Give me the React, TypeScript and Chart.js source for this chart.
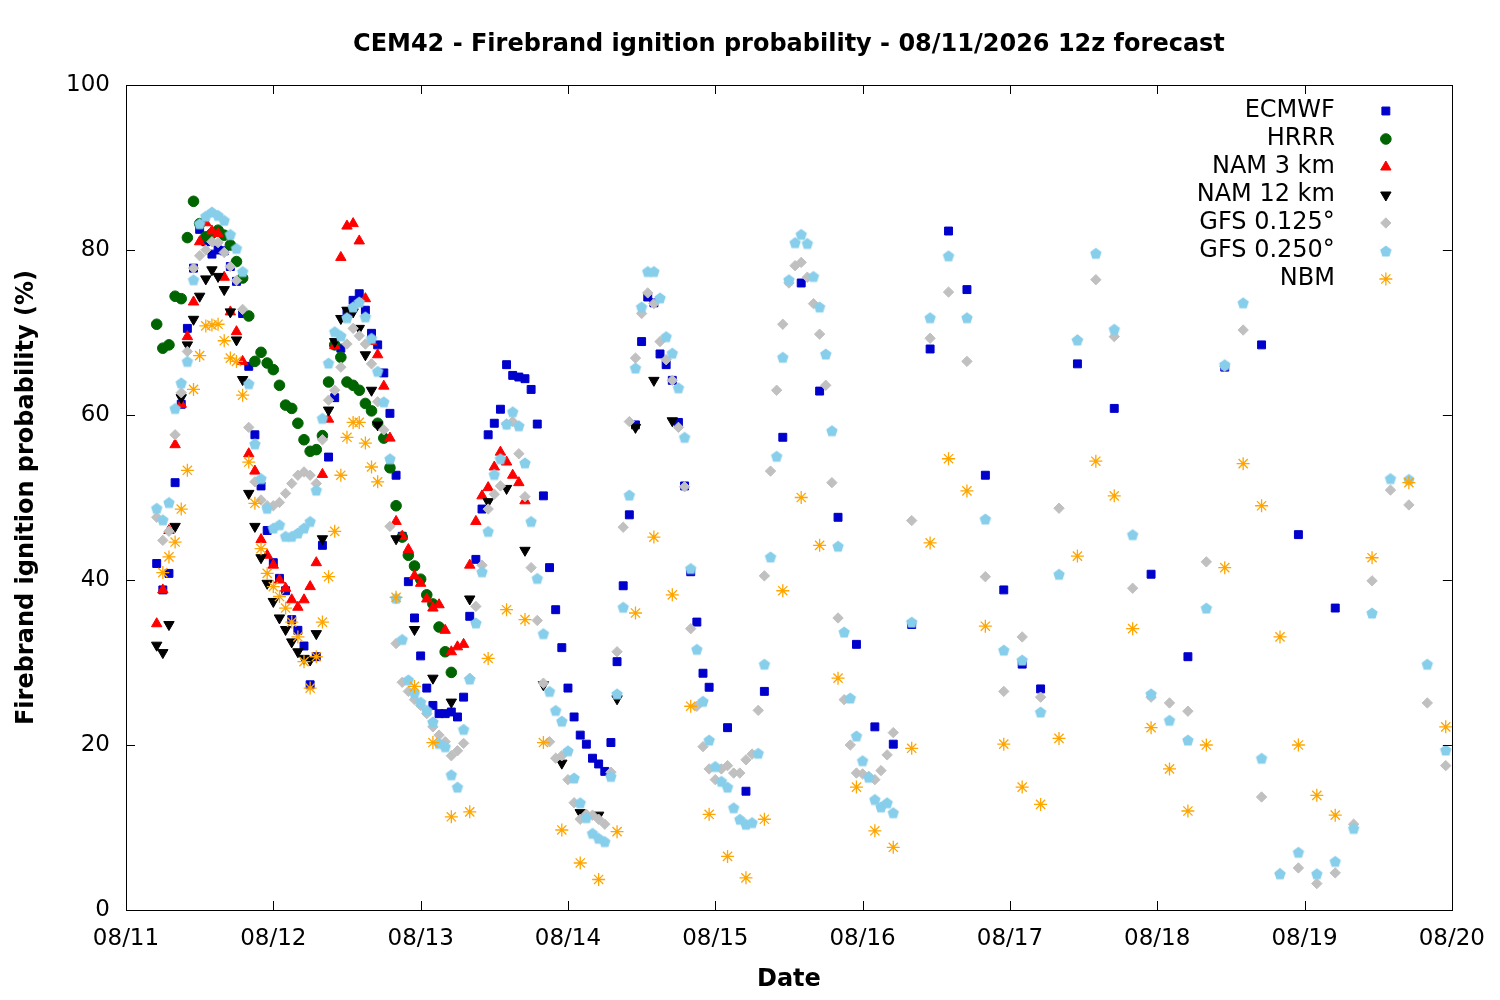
import { useEffect, useRef } from 'react';
import { Chart, registerables, ChartConfiguration, Plugin } from 'chart.js';
import { drawPoint } from 'chart.js/helpers';

Chart.register(...registerables);

// hours are counted from 08/11 00:00, [first, last, step]
const ecmwfHours = [[5, 95, 1], [98, 149, 3], [155, 197, 6]];
const hrrrHours = [[5, 53, 1]];
const nam3Hours = [[5, 65, 1]];
const nam12Hours = [[5, 41, 1], [44, 89, 3]];
const gfsHours = [[5, 125, 1], [128, 215, 3]];
const nbmHours = [[6, 41, 1], [44, 197, 3], [203, 215, 6]];

const dateLabels = ['08/11', '08/12', '08/13', '08/14', '08/15', '08/16', '08/17', '08/18', '08/19', '08/20'];

const ecmwfValues = [
  42, 38.8, 40.8, 51.8, 61.3, 70.5, 77.8, 82.5, 81, 79.5,
  80, 79.9, 78, 76.2, 72.3, 65.9, 57.6, 51.4, 46, 42.1,
  40.2, 38.7, 35.2, 33.9, 32, 27.3, 30.7, 44.2, 54.9, 62.1,
  68.1, 72.5, 73.9, 74.7, 72.7, 69.9, 68.5, 65.1, 60.2, 52.7,
  45.3, 39.8, 35.4, 30.8, 26.9, 24.8, 23.8, 23.8, 24.0, 23.4,
  25.8, 35.6, 42.5, 48.6, 57.6, 59, 60.7, 66.1, 64.8, 64.6,
  64.4, 63.1, 58.9, 50.2, 41.5, 36.4, 31.8, 26.9, 23.4, 21.2,
  20.1, 18.4, 17.7, 16.8, 20.3, 30.1, 39.3, 47.9, 58.8, 68.9,
  74.3, 73.6, 67.4, 66.1, 64.2, 59.1, 51.4, 41, 34.9, 28.7, 27,
  22.1, 14.4, 26.5, 57.3, 76, 62.9, 47.6, 32.2, 22.2, 20.1,
  34.6, 68, 82.3, 75.2, 52.7, 38.8, 29.8, 26.8,
  66.2, 60.8, 40.7, 30.7, 65.8, 68.5, 45.5, 36.6,
];

const hrrrValues = [
  71, 68.1, 68.5, 74.4, 74.1, 81.5, 85.9, 83.2, 81.6, 82,
  82.4, 81.8, 80.6, 78.6, 76.6, 72, 66.5, 67.6, 66.3, 65.5,
  63.6, 61.2, 60.8, 59, 57, 55.6, 55.8, 57.5, 64, 68.5,
  67, 64, 63.6, 63, 61.4, 60.5, 59, 57.2, 53.6, 49,
  45.2, 43, 41.7, 40.1, 38.2, 37.1, 34.3, 31.3, 28.8,
];

const nam3Values = [
  34.7, 38.8, 46, 56.4, 61.3, 69.5, 73.7, 81, 83.3, 82.3,
  82, 76.7, 72.5, 70.1, 66.5, 55.3, 53.2, 44.9, 43, 41.8,
  40, 39, 37.6, 36.7, 37.6, 39.2, 42.1, 52.8, 59.5, 68.4,
  79.1, 82.9, 83.2, 81.1, 74.1, 68.9, 67.3, 63.5, 57.2, 47.1,
  45.3, 43.7, 40.5, 39.6, 37.7, 36.6, 37, 33.9, 31.3, 31.9,
  32.2, 41.8, 47.1, 50.2, 51.2, 53.7, 55.5, 54.3, 52.7, 51.8, 49.6,
];

const nam12Values = [
  32.1, 31.2, 34.6, 46.5, 62.1, 68.5, 71.6, 74.4, 76.5, 77.6,
  76.8, 75.2, 72.5, 69.1, 64.3, 50.5, 46.5, 42.7, 39.6, 37.4,
  35.4, 34, 32.5, 31.3, 30.5, 30.3, 33.5, 45, 60.6, 68.9,
  71.7, 72.7, 72.5, 70.5, 67.3, 63, 58.8,
  45, 34, 28.1, 25.2, 37.7, 49.5, 51.1, 43.6, 27.3, 17.8,
  11.8, 11.5, 25.6, 58.5, 64.2, 59.3,
];

const gfs0125Values = [
  47.6, 44.8, 45.9, 57.6, 62.7, 67.7, 77.8, 79.3, 80, 81,
  80.9, 79.7, 78, 76.3, 72.8, 58.5, 51.9, 49.7, 49, 49,
  49.4, 50.5, 51.7, 52.7, 53.1, 52.7, 51.7, 57, 61.8, 63,
  65.8, 68.6, 70.5, 69.6, 68.6, 66.2, 61.6, 58.2, 46.5, 32.3,
  27.6, 26.5, 25.5, 24.8, 23.8, 22.2, 21.2, 20.4, 18.7, 19.3,
  20.2, 28.1, 36.8, 41.8, 48.6, 50.4, 51.4, 58.9, 59.2, 55.3,
  50.1, 41.5, 35.1, 27.5, 20.4, 18.4, 18.7, 15.8, 13, 11,
  11.6, 11.5, 11, 10.4, 16.7, 31.3, 46.4, 59.2, 66.9, 72.3,
  74.8, 73.5, 68.9, 66.7, 64.2, 58.5, 51.3, 34.1, 24.7, 19.8,
  17.1, 15.8, 17.1, 17.5, 16.6, 16.6, 18.2, 18.9, 24.2, 40.5,
  53.2, 63, 71, 76, 78.1, 78.5, 76.7, 73.5, 69.8, 63.6,
  51.8, 35.4, 25.5, 20, 16.6, 16.5, 16.2, 15.8, 16.9, 18.8, 21.5,
  47.2, 69.3, 74.9, 66.5, 40.4, 26.5, 33.1, 25.8, 48.7, 69.1,
  76.4, 69.5, 39, 25.8, 25.1, 24.1, 42.2, 65.9, 70.3, 13.7,
  4.4, 5.1, 3.2, 4.5, 10.4, 39.9, 50.9, 49.1, 25.1, 17.5,
];

const gfs0250Values = [
  48.7, 47.3, 49.4, 60.8, 63.9, 66.5, 76.4, 83.2, 84.1, 84.6,
  84.2, 83.6, 81.9, 80.2, 77.4, 63.8, 56.5, 52.3, 48.7, 46.3,
  46.7, 45.3, 45.3, 45.7, 46.3, 47.1, 50.9, 59.6, 66.3, 70.1,
  69.6, 71.8, 73.1, 73.7, 71.9, 69.3, 65.3, 61.6, 54.7, 37.8,
  32.8, 27.9, 26.3, 25.2, 24.2, 22.8, 20.2, 19.8, 16.4, 14.9,
  21.9, 28, 34.8, 41, 45.9, 52.8, 54.7, 58.9, 60.4, 58.7,
  54.2, 47.1, 40.2, 33.5, 26.5, 24.2, 22.9, 19.3, 16, 13,
  11.2, 9.3, 8.7, 8.3, 16.2, 26.2, 36.7, 50.3, 65.7, 73.1,
  77.4, 77.4, 74.2, 69.5, 67.5, 63.3, 57.3, 41.4, 31.6, 25.3,
  20.6, 17.4, 15.6, 14.9, 12.4, 11, 10.4, 10.6, 19, 29.8,
  42.8, 55, 67, 76.4, 80.9, 81.9, 80.8, 76.8, 73.1, 67.4,
  58.1, 44.1, 33.7, 25.7, 21.1, 18.1, 16.1, 13.4, 12.5, 13, 11.8,
  34.9, 71.8, 79.3, 71.8, 47.4, 31.5, 30.3, 24, 40.7, 69.1,
  79.6, 70.4, 45.5, 26.2, 23, 20.6, 36.6, 66.1, 73.6, 18.4,
  4.4, 7, 4.4, 5.9, 9.9, 36, 52.3, 52.2, 29.8, 19.4,
];

const nbmValues = [
  40.9, 42.8, 44.6, 48.6, 53.3, 63.1, 67.2, 70.8, 70.9, 71,
  69, 66.9, 66.5, 62.4, 54.3, 49.3, 43.8, 40.8, 39.2, 38,
  36.6, 34.9, 33.1, 30.1, 26.9, 30.7, 34.9, 40.4, 45.9, 52.7,
  57.3, 59.1, 59.1, 56.6, 53.7, 51.9,
  37.9, 27.1, 20.3, 11.3, 11.9, 30.5, 36.4, 35.2, 20.3, 9.7,
  5.7, 3.7, 9.5, 36, 45.2, 38.2, 24.7, 11.6, 6.5, 3.9,
  11, 38.7, 50, 44.2, 28.1, 14.9, 9.6, 7.6, 19.6, 44.5,
  54.7, 50.8, 34.4, 20.1, 14.9, 12.8, 20.8, 42.9, 54.4, 50.2,
  34.1, 22.1, 17.1, 12, 20, 41.5, 54.1, 49, 33.1, 20,
  13.9, 11.5,
  42.7, 51.8, 22.2,
];

const expandHours = (segments: number[][]) =>
  segments.flatMap(([from, to, step]) => {
    const out: number[] = [];
    for (let h = from; h <= to; h += step) out.push(h);
    return out;
  });

const makePentagon = (color: string, r: number) => {
  const c = document.createElement('canvas');
  const size = Math.ceil(r * 2) + 2;
  c.width = size;
  c.height = size;
  const g = c.getContext('2d')!;
  g.fillStyle = color;
  g.beginPath();
  for (let k = 0; k < 5; k++) {
    const a = -Math.PI / 2 + (k * 2 * Math.PI) / 5;
    const px = size / 2 + r * Math.cos(a);
    const py = size / 2 + 0.6 + r * Math.sin(a);
    if (k === 0) g.moveTo(px, py);
    else g.lineTo(px, py);
  }
  g.closePath();
  g.fill();
  return c;
};

// gnuplot style box: border plus inward ticks on all four sides
const framePlugin: Plugin<'scatter'> = {
  id: 'frame',
  afterDatasetsDraw(chart) {
    const { ctx, chartArea, scales } = chart;
    const { left, right, top, bottom } = chartArea;
    const tick = 9;
    ctx.save();
    ctx.strokeStyle = '#000';
    ctx.lineWidth = 1;
    ctx.beginPath();
    scales.x.ticks.forEach((t) => {
      const px = Math.round(scales.x.getPixelForValue(t.value)) + 0.5;
      ctx.moveTo(px, bottom);
      ctx.lineTo(px, bottom - tick);
      ctx.moveTo(px, top);
      ctx.lineTo(px, top + tick);
    });
    scales.y.ticks.forEach((t) => {
      const py = Math.round(scales.y.getPixelForValue(t.value)) + 0.5;
      ctx.moveTo(left, py);
      ctx.lineTo(left + tick, py);
      ctx.moveTo(right, py);
      ctx.lineTo(right - tick, py);
    });
    ctx.stroke();
    ctx.strokeRect(Math.round(left) + 0.5, Math.round(top) + 0.5, Math.round(right - left), Math.round(bottom - top));
    ctx.restore();
  },
};

// key in the top right corner: right-aligned text, symbol after it
const keyPlugin: Plugin<'scatter'> = {
  id: 'key',
  afterDatasetsDraw(chart) {
    const { ctx, chartArea } = chart;
    ctx.save();
    ctx.font = '24px "DejaVu Sans"';
    ctx.textAlign = 'right';
    ctx.textBaseline = 'middle';
    chart.data.datasets.forEach((ds: any, i) => {
      const y = chartArea.top + 26 + i * 28;
      ctx.fillStyle = '#000';
      ctx.fillText(ds.label, chartArea.right - 117, y);
      ctx.fillStyle = ds.pointBackgroundColor;
      ctx.strokeStyle = ds.pointBorderColor;
      ctx.lineWidth = ds.pointBorderWidth;
      drawPoint(ctx, {
        pointStyle: ds.pointStyle,
        rotation: ds.pointRotation,
        radius: ds.pointRadius,
        borderWidth: ds.pointBorderWidth,
      }, chartArea.right - 66, y);
    });
    ctx.restore();
  },
};

const App = () => {
  const canvasRef = useRef<HTMLCanvasElement>(null);
  const chartRef = useRef<Chart<'scatter'> | null>(null);

  useEffect(() => {
    document.body.style.margin = '0';
    document.body.style.overflow = 'hidden';
    const canvas = canvasRef.current;
    const context = canvas?.getContext('2d');
    if (!canvas || !context) return;

    Chart.defaults.font.family = '"DejaVu Sans", sans-serif';
    Chart.defaults.font.size = 23;
    Chart.defaults.color = '#000';

    const series = [
      { label: 'ECMWF', hours: ecmwfHours, values: ecmwfValues, color: '#0000cc', style: 'rect', radius: 5.6, rotation: 0 },
      { label: 'HRRR', hours: hrrrHours, values: hrrrValues, color: '#006400', style: 'circle', radius: 5.3, rotation: 0 },
      { label: 'NAM 3 km', hours: nam3Hours, values: nam3Values, color: '#ff0000', style: 'triangle', radius: 6, rotation: 0 },
      { label: 'NAM 12 km', hours: nam12Hours, values: nam12Values, color: '#000000', style: 'triangle', radius: 6, rotation: 180 },
      { label: 'GFS 0.125°', hours: gfsHours, values: gfs0125Values, color: '#c0c0c0', style: 'rectRot', radius: 5.2, rotation: 0 },
      { label: 'GFS 0.250°', hours: gfsHours, values: gfs0250Values, color: '#87ceeb', style: 'pentagon', radius: 6, rotation: 0 },
      { label: 'NBM', hours: nbmHours, values: nbmValues, color: '#ffa500', style: 'star', radius: 6.5, rotation: 0 },
    ];

    const config: ChartConfiguration<'scatter'> = {
      type: 'scatter',
      data: {
        datasets: series.map((s, i) => {
          const xs = expandHours(s.hours);
          return {
            label: s.label,
            data: s.values.map((v, k) => ({ x: xs[k], y: v })),
            pointStyle: s.style === 'pentagon' ? makePentagon(s.color, s.radius) : (s.style as any),
            pointRadius: s.radius,
            pointRotation: s.rotation,
            pointBackgroundColor: s.color,
            pointBorderColor: s.color,
            pointBorderWidth: s.style === 'star' ? 1.3 : 1,
            showLine: false,
            order: series.length - i,
          };
        }),
      },
      options: {
        animation: false,
        responsive: false,
        devicePixelRatio: 1,
        layout: { padding: { left: 0, right: 46, top: 0, bottom: 0 } },
        plugins: {
          legend: { display: false },
          tooltip: { enabled: false },
          title: {
            display: true,
            fullSize: false,
            text: 'CEM42 - Firebrand ignition probability - 08/11/2026 12z forecast',
            color: '#000',
            font: { size: 24, weight: 'bold' },
            padding: { top: 30.6, bottom: 25.6 },
          },
        },
        scales: {
          x: {
            type: 'linear',
            min: 0,
            max: 216,
            afterFit: (scale) => {
              scale.height = 90;
            },
            grid: { display: false, drawTicks: false },
            border: { display: false },
            ticks: {
              stepSize: 24,
              autoSkip: false,
              maxRotation: 0,
              padding: 15,
              color: '#000',
              font: { size: 23 },
              callback: (v) => dateLabels[Math.round(Number(v) / 24)] ?? '',
            },
            title: {
              display: true,
              text: 'Date',
              color: '#000',
              font: { size: 24, weight: 'bold' },
              padding: { top: 0, bottom: 5.6 },
            },
          },
          y: {
            min: 0,
            max: 100,
            afterFit: (scale) => {
              scale.width = 126;
            },
            grid: { display: false, drawTicks: false },
            border: { display: false },
            ticks: {
              stepSize: 20,
              padding: 16,
              color: '#000',
              font: { size: 23 },
            },
            title: {
              display: true,
              text: 'Firebrand ignition probability (%)',
              color: '#000',
              font: { size: 24, weight: 'bold' },
              padding: { top: 12.6, bottom: 0 },
            },
          },
        },
      },
      plugins: [framePlugin, keyPlugin],
    };

    chartRef.current?.destroy();
    chartRef.current = new Chart(context, config);

    return () => {
      chartRef.current?.destroy();
    };
  }, [canvasRef]);

  return (
    <div style={{ width: 1500, height: 1000 }}>
      <canvas ref={canvasRef} width={1500} height={1000} style={{ display: 'block' }} />
    </div>
  );
};

export default App;
